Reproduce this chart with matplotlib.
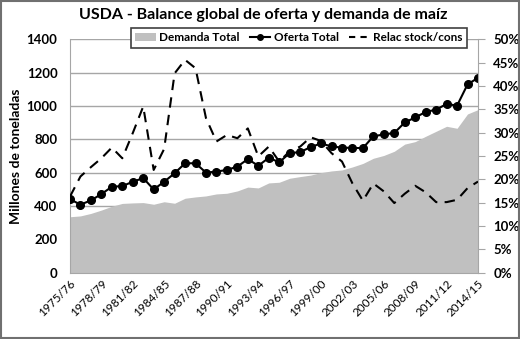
import numpy as np
import matplotlib
matplotlib.use("Agg")
import matplotlib.pyplot as plt
from matplotlib.patches import Patch, Rectangle
from matplotlib.lines import Line2D
from matplotlib.ticker import FuncFormatter

plt.rcParams["font.family"] = ["Lato", "DejaVu Sans"]

# ---------------------------------------------------------------------
# DATA
# ---------------------------------------------------------------------
campanas = ["1975/76", "1976/77", "1977/78", "1978/79", "1979/80", "1980/81",
            "1981/82", "1982/83", "1983/84", "1984/85", "1985/86", "1986/87",
            "1987/88", "1988/89", "1989/90", "1990/91", "1991/92", "1992/93",
            "1993/94", "1994/95", "1995/96", "1996/97", "1997/98", "1998/99",
            "1999/00", "2000/01", "2001/02", "2002/03", "2003/04", "2004/05",
            "2005/06", "2006/07", "2007/08", "2008/09", "2009/10", "2010/11",
            "2011/12", "2012/13", "2013/14", "2014/15"]

oferta_total = [440, 408, 433, 471, 515, 519, 545, 567, 499, 545,
                596, 656, 656, 600, 606, 616, 636, 681, 641, 689,
                662, 717, 723, 753, 775, 757, 750, 748, 747, 818,
                829, 838, 901, 931, 964, 978, 1012, 1002, 1129, 1169]

demanda_total = [335, 340, 355, 375, 398, 415, 418, 420, 410, 425,
                 416, 446, 454, 460, 472, 476, 490, 513, 508, 538,
                 542, 566, 576, 585, 600, 610, 616, 634, 655, 686,
                 703, 728, 771, 786, 818, 848, 878, 866, 952, 978]

relac_stock_cons = [16.3, 20.6, 22.6, 24.5, 26.8, 24.5, 29.9, 35.6, 22.0, 26.5,
                    42.7, 45.6, 43.8, 33.1, 28.1, 29.5, 28.8, 30.9, 24.9, 27.0,
                    23.8, 26.0, 27.0, 29.0, 28.2, 25.6, 23.8, 19.1, 15.4, 19.1,
                    17.4, 14.9, 16.9, 18.6, 17.2, 15.1, 15.1, 15.6, 18.1, 19.5]

# ---------------------------------------------------------------------
# PLOT
# ---------------------------------------------------------------------
x = np.arange(len(campanas))
GRID = "#a6a6a6"

fig = plt.figure(figsize=(5.2, 3.39), dpi=100)
ax = fig.add_axes([0.1346, 0.196, 0.7846, 0.688])

ax.set_axisbelow(True)
ax.yaxis.grid(True, color=GRID, lw=1.0, zorder=0)
ax.fill_between(x, demanda_total, 0, color="#c0c0c0", lw=0, zorder=2)
ax.plot(x, oferta_total, color="black", lw=1.5, marker="o", ms=5.5, zorder=4)

ax.set_xlim(0, len(campanas) - 1)
ax.set_ylim(0, 1400)
ax.set_yticks(range(0, 1401, 200))
ax.set_ylabel("Millones de toneladas", fontsize=10, fontweight="bold")
ax.yaxis.set_label_coords(-0.118, 0.5)

ax.set_xticks(x[::3])
ax.set_xticklabels(campanas[::3], rotation=45, ha="right", rotation_mode="anchor",
                   fontsize=8.5)
ax.tick_params(axis="x", length=0, pad=4)
ax.tick_params(axis="y", length=0, pad=9, labelsize=9.5)
for lab in ax.get_yticklabels():
    lab.set_fontweight("bold")

for s in ["top", "right"]:
    ax.spines[s].set_visible(False)
ax.spines["left"].set_color(GRID)
ax.spines["bottom"].set_color(GRID)

ax2 = ax.twinx()
ax2.plot(x, relac_stock_cons, color="black", lw=1.5, dashes=(5, 3.5), zorder=5)
ax2.set_ylim(0, 50)
ax2.set_yticks(range(0, 51, 5))
ax2.yaxis.set_major_formatter(FuncFormatter(lambda v, p: f"{v:.0f}%"))
ax2.tick_params(axis="y", length=5, color=GRID, pad=6, labelsize=9.5)
for lab in ax2.get_yticklabels():
    lab.set_fontweight("bold")
for s in ["top", "left", "bottom"]:
    ax2.spines[s].set_visible(False)
ax2.spines["right"].set_color(GRID)

fig.suptitle("USDA - Balance global de oferta y demanda de maíz",
             fontsize=11.5, fontweight="bold", x=0.507, y=0.975)

handles = [Patch(facecolor="#c0c0c0", edgecolor="none", label="Demanda Total"),
           Line2D([], [], color="black", lw=1.5, marker="o", ms=4, label="Oferta Total"),
           Line2D([], [], color="black", lw=1.5, dashes=(3, 2.5), label="Relac stock/cons")]
leg = fig.legend(handles=handles, loc="center", bbox_to_anchor=(0.575, 0.888), ncol=3,
                 frameon=True, fancybox=False, edgecolor="#404040", framealpha=1,
                 prop={"size": 8.5, "weight": "bold"}, handlelength=1.7,
                 handletextpad=0.3, columnspacing=0.9, borderpad=0.35)
leg.get_frame().set_linewidth(1.2)

fig.patches.append(Rectangle((0.001, 0.002), 0.997, 0.995, transform=fig.transFigure,
                             fill=False, edgecolor="#707070", lw=1.5))

fig.savefig("out.png", dpi=100)
